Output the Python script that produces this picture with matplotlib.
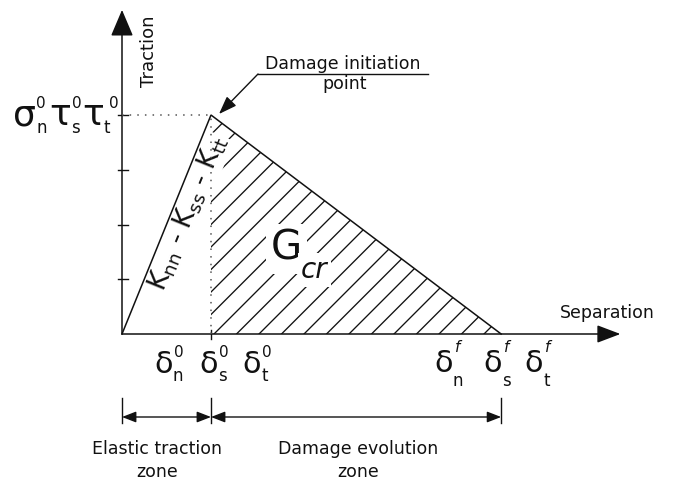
import math
import matplotlib
matplotlib.use('Agg')
import matplotlib.pyplot as plt
from matplotlib.patches import Polygon

plt.rcParams['font.family'] = ['DejaVu Sans']
plt.rcParams['mathtext.fontset'] = 'dejavusans'
plt.rcParams['mathtext.default'] = 'regular'

# ---------------- data ----------------
curve_separation = [0.0, 1.0, 4.26]      # origin, damage initiation, complete failure
curve_traction = [0.0, 4.0, 0.0]
traction_ticks = [1, 2, 3, 4]
separation_ticks = [1.0]
axis_end_separation = 5.6
axis_end_traction = 5.92
zone_bounds = [0.0, 1.0, 4.26]
zone_labels = ['Elastic traction\nzone', 'Damage evolution\nzone']
onset_labels = [('δ', 'n', '0'), ('δ', 's', '0'), ('δ', 't', '0')]
final_labels = [('δ', 'n', 'f'), ('δ', 's', 'f'), ('δ', 't', 'f')]
peak_labels = [('σ', 'n', '0'), ('τ', 's', '0'), ('τ', 't', '0')]
x_axis_label = 'Separation'
y_axis_label = 'Traction'
annotation_lines = ['Damage initiation', 'point']
stiffness_label = 'K$_{nn}$ - K$_{ss}$ - K$_{tt}$'
energy_label = ('G', 'cr')

# ---------------- layout ----------------
W, H = 674, 483
X0, Y0 = 122.0, 334.0      # pixel position of origin
SX, SY = 89.0, 54.75       # pixels per data unit
INK = '#111111'

fig = plt.figure(figsize=(W / 100, H / 100), dpi=100)
ax = fig.add_axes([0, 0, 1, 1])
ax.set_xlim(-X0 / SX, (W - X0) / SX)
ax.set_ylim(-(H - Y0) / SY, Y0 / SY)
ax.axis('off')


def P(px, py):
    return ((px - X0) / SX, (Y0 - py) / SY)


# axes with arrow heads
ax.annotate('', xy=(axis_end_separation, 0), xytext=(0, 0),
            arrowprops=dict(arrowstyle='-|>,head_length=1.45,head_width=0.55',
                            color=INK, lw=1.1, shrinkA=0, shrinkB=0, mutation_scale=10))
ax.annotate('', xy=(0, axis_end_traction), xytext=(0, 0),
            arrowprops=dict(arrowstyle='-|>,head_length=1.65,head_width=0.7',
                            color=INK, lw=1.1, shrinkA=0, shrinkB=0, mutation_scale=10))

# ticks
for t in traction_ticks:
    ax.plot([-4 / SX, 6 / SX], [t, t], color=INK, lw=1.0, zorder=3)
for s in separation_ticks:
    ax.plot([s, s], [-5 / SY, 4 / SY], color=INK, lw=1.0, zorder=3)

# reference dotted lines
ax.plot([0, curve_separation[1]], [curve_traction[1]] * 2, ls=(0, (1, 4)),
        color='#555555', lw=1.1, zorder=4)
ax.plot([curve_separation[1]] * 2, [0, curve_traction[1]], ls=(0, (1, 4)),
        color='#555555', lw=1.1, zorder=4)

# traction-separation law
ax.plot(curve_separation, curve_traction, color=INK, lw=1.1, zorder=5,
        solid_joinstyle='miter')

# hatched damage region (manual 45 deg hatch)
region = Polygon([(curve_separation[1], 0), (curve_separation[1], curve_traction[1]),
                  (curve_separation[2], 0)], closed=True, fill=False, edgecolor='none')
ax.add_patch(region)
for k in range(-12, 16):
    bx = 214 + 22.5 * k
    x_a, y_a = P(bx, 334)
    x_b, y_b = P(bx + 320, 334 - 320)
    ln, = ax.plot([x_a, x_b], [y_a, y_b], color=INK, lw=0.95, zorder=2)
    ln.set_clip_path(region)

# axis labels
ax.text(*P(607, 318), x_axis_label, ha='center', va='baseline', fontsize=12.5, color=INK)
ax.text(*P(149, 51), y_axis_label, ha='center', va='center', rotation=90,
        fontsize=13, color=INK)

# damage initiation annotation
ax.text(*P(343, 69), annotation_lines[0], ha='center', va='baseline', fontsize=12.5, color=INK)
ax.text(*P(345, 89), annotation_lines[1], ha='center', va='baseline', fontsize=12.5, color=INK)
lx0, ly0 = P(258, 74)
lx1, _ = P(428, 74)
ax.plot([lx0, lx1], [ly0, ly0], color=INK, lw=1.0)
ax.annotate('', xy=P(219, 114), xytext=(lx0, ly0),
            arrowprops=dict(arrowstyle='-|>,head_length=1.1,head_width=0.4',
                            color=INK, lw=1.0, shrinkA=0, shrinkB=0, mutation_scale=10))


def symbol(right, base_y, parts, fs, sub_dx, sub_y, sup_dx, sup_y, sfs, pfs):
    b, s, p = parts
    ax.text(*P(right, base_y), b, ha='right', va='baseline', fontsize=fs, color=INK)
    ax.text(*P(right + sub_dx, sub_y), s, ha='left', va='baseline', fontsize=sfs, color=INK)
    ax.text(*P(right + sup_dx, sup_y), p, ha='left', va='baseline', fontsize=pfs, color=INK,
            style='italic' if p == 'f' else 'normal')


for lab, r in zip(onset_labels, [173, 218, 261]):
    symbol(r, 373, lab, 22, 0, 381, 1, 357, 12, 11)
for lab, r in zip(final_labels, [453, 502, 543]):
    symbol(r, 372, lab, 22, 0, 386, 2, 352, 12, 11)
for lab, r, pdx in zip(peak_labels, [36, 71, 104], [0, 1, 5]):
    symbol(r, 125, lab, 26, 0, 133, pdx, 108, 12, 11)

# stiffness label along the elastic branch
p0 = ax.transData.transform((curve_separation[0], curve_traction[0]))
p1 = ax.transData.transform((curve_separation[1], curve_traction[1]))
ang = math.degrees(math.atan2(p1[1] - p0[1], p1[0] - p0[0]))
ax.text(*P(188, 213), stiffness_label, rotation=ang, rotation_mode='anchor',
        ha='center', va='center', fontsize=19, color=INK, zorder=3,
        bbox=dict(boxstyle='square,pad=0.05', fc='white', ec='none'))

# fracture energy label: large G with lowered subscript
g_txt = ax.text(*P(271, 260), energy_label[0], ha='left', va='baseline', fontsize=29,
                color=INK, zorder=3,
                bbox=dict(boxstyle='square,pad=0.12', fc='white', ec='none'))
fig.canvas.draw()
g_right = g_txt.get_window_extent().x1
ax.text(*P(g_right - 1, 278), energy_label[1], ha='left', va='baseline', fontsize=20,
        color=INK, style='italic', zorder=3,
        bbox=dict(boxstyle='square,pad=0.1', fc='white', ec='none'))

# zone dimension lines
for zb in zone_bounds:
    xa, ya = P(0, 398)
    _, yb = P(0, 423)
    ax.plot([zb, zb], [ya, yb], color=INK, lw=1.0)
_, yz = P(0, 417)
for i in range(len(zone_bounds) - 1):
    ax.annotate('', xy=(zone_bounds[i + 1], yz), xytext=(zone_bounds[i], yz),
                arrowprops=dict(arrowstyle='<|-|>,head_length=0.85,head_width=0.33',
                                color=INK, lw=1.0, shrinkA=0, shrinkB=0, mutation_scale=10))
for lab, cx in zip(zone_labels, [157, 358]):
    l1, l2 = lab.split('\n')
    ax.text(*P(cx, 454), l1, ha='center', va='baseline', fontsize=12.5, color=INK)
    ax.text(*P(cx, 477), l2, ha='center', va='baseline', fontsize=12.5, color=INK)

fig.savefig('out.png', dpi=100)
